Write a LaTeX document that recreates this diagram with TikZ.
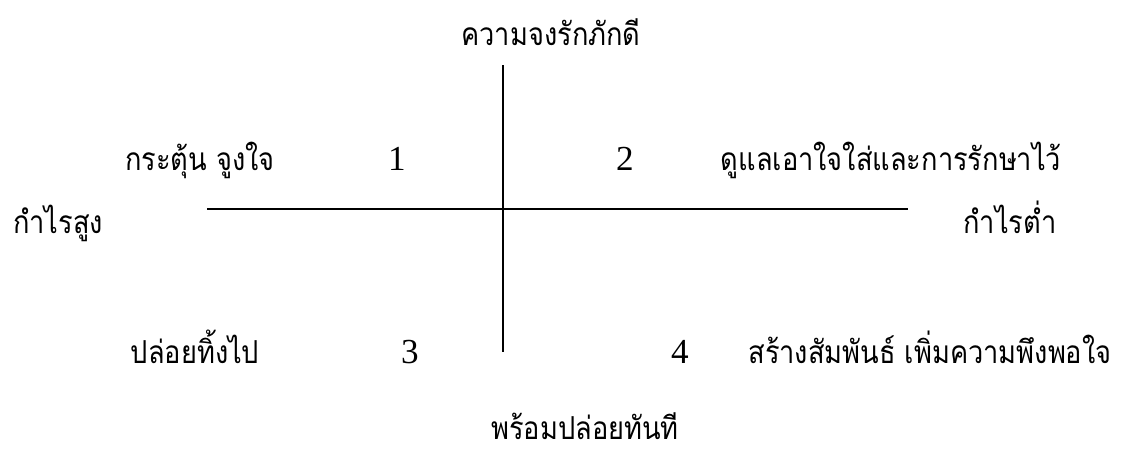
\documentclass[tikz,border=0pt]{standalone}
\usepackage{fontspec}
\setmainfont{Liberation Serif}
\newfontfamily\thaifont[Script=Thai,FakeStretch=0.86]{Loma}
\usetikzlibrary{positioning}
\tikzset{
  thai/.style={font=\thaifont\fontsize{18}{21}\selectfont,anchor=base,inner sep=0pt},
  num/.style={font=\fontsize{20}{24}\selectfont,anchor=base,inner sep=0pt},
  axis/.style={line width=1pt,black}
}

\begin{document}
\begin{tikzpicture}[x=1cm,y=1cm]
% page: 1131 x 456 px at 50 px per cm
\useasboundingbox (0,0) rectangle (22.62,-9.12);
% the two axes
\coordinate (vtop) at (10.06,-1.30);
\coordinate (vbot) at (10.06,-7.04);
\coordinate (hleft) at (4.14,-4.18);
\coordinate (hright) at (18.16,-4.18);
\draw[axis] (vtop) -- (vbot);
\draw[axis] (hleft) -- (hright);
% axis ends
\node[thai] (loyal) at (11.02,-0.90) {ความจงรักภักดี};
\node[thai] (leave) at (11.70,-8.78) {พร้อมปล่อยทันที};
\node[thai] (high) at (1.16,-4.66) {กำไรสูง};
\node[thai] (low) at (20.20,-4.66) {กำไรต่ำ};
% quadrants: number and what to do
\node[num] (q1) at (7.94,-3.40) {1};
\node[num] (q2) at (12.50,-3.40) {2};
\node[num] (q3) at (8.20,-7.26) {3};
\node[num] (q4) at (13.60,-7.26) {4};
\node[thai] (act1) at (4.00,-3.40) {กระตุ้น จูงใจ};
\node[thai] (act2) at (17.82,-3.40) {ดูแลเอาใจใส่และการรักษาไว้};
\node[thai] (act3) at (3.90,-7.26) {ปล่อยทิ้งไป};
\node[thai] (act4) at (18.60,-7.26) {สร้างสัมพันธ์ เพิ่มความพึงพอใจ};
\end{tikzpicture}
\end{document}
